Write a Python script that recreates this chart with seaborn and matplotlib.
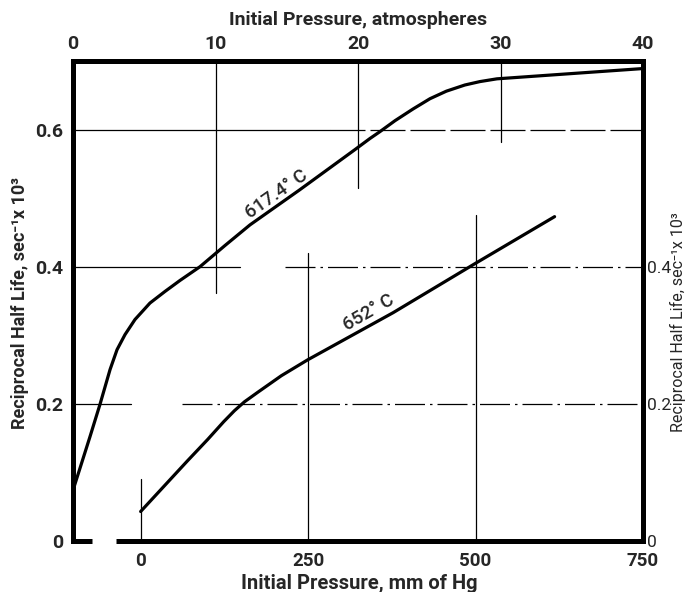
import matplotlib
matplotlib.use("Agg")
import matplotlib.pyplot as plt
import seaborn as sns
import pandas as pd

# ---- data ----
# 617.4 deg C curve: initial pressure (atmospheres, top axis) vs reciprocal half life (left axis)
atm_617 = [0.0, 1.19, 1.89, 2.60, 3.09, 3.65, 4.35, 5.40, 6.46, 7.51, 8.91, 10.67, 12.42,
           15.9, 19.8, 20.84, 21.54, 22.6, 23.86, 25.05, 26.2, 27.5, 28.56, 29.75, 40.0]
rhl_617 = [0.074, 0.152, 0.199, 0.250, 0.279, 0.301, 0.323, 0.347, 0.364, 0.380, 0.400, 0.431, 0.461,
           0.512, 0.571, 0.587, 0.597, 0.613, 0.630, 0.645, 0.656, 0.665, 0.670, 0.674, 0.689]

# 652 deg C curve: initial pressure (mm of Hg, bottom axis) vs reciprocal half life (right axis)
mm_652 = [0, 35, 70, 100, 124, 140, 155, 175, 210, 249, 377, 500, 618]
rhl_652 = [0.043, 0.080, 0.117, 0.148, 0.174, 0.190, 0.203, 0.217, 0.241, 0.264, 0.333, 0.405, 0.473]

atm_ticks = [0, 10, 20, 30, 40]
mm_ticks = [0, 250, 500, 750]
left_ticks = [0, 0.2, 0.4, 0.6]
left_labels = ["0", "0.2", "0.4", "0.6"]
right_ticks = [0, 0.2, 0.4]
right_labels = ["0", "0.2", "0.4"]

df617 = pd.DataFrame({"atm": atm_617, "rhl": rhl_617})
df652 = pd.DataFrame({"mm": mm_652, "rhl": rhl_652})

sns.set_style("white")
plt.rcParams["font.family"] = ["Roboto", "DejaVu Sans"]

W, H = 697, 592
fig = plt.figure(figsize=(W / 100, H / 100), dpi=100)
ax = fig.add_axes([73 / W, 1 - 541 / H, 570 / W, 480 / H])
ax.set_xlim(-101, 750)
ax.set_ylim(0, 0.70)
ax_top = ax.twiny()
ax_top.set_xlim(0, 40)
ax_r = ax.twinx()
ax_r.set_ylim(0, 0.70)

K = "black"
SPW = 3.6
GLW = 0.9

# spines
for s in ["top", "left", "right"]:
    ax.spines[s].set_linewidth(SPW)
    ax.spines[s].set_color(K)
ax.spines["bottom"].set_visible(False)
for a in (ax_top, ax_r):
    for s in a.spines.values():
        s.set_visible(False)
# broken bottom spine
ax.plot([0, 0.033], [0, 0], transform=ax.transAxes, color=K, lw=SPW, clip_on=False,
        solid_capstyle="butt")
ax.plot([0.0754, 1.0], [0, 0], transform=ax.transAxes, color=K, lw=SPW, clip_on=False,
        solid_capstyle="butt")

# curves
sns.lineplot(data=df617, x="atm", y="rhl", ax=ax_top, color=K, lw=2.3, sort=False)
sns.lineplot(data=df652, x="mm", y="rhl", ax=ax_r, color=K, lw=2.3, sort=False)

# partial grid lines
dashdot = (0, (24, 4, 2, 4))
ax.axhline(0.6, xmin=0, xmax=0.45, color=K, lw=GLW)
ax.axhline(0.6, xmin=0.45, xmax=1, color=K, lw=GLW, ls=(0, (28, 4)))
ax.axhline(0.4, xmin=0, xmax=0.293, color=K, lw=GLW)
ax.axhline(0.4, xmin=0.372, xmax=1, color=K, lw=GLW, ls=dashdot)
ax.axhline(0.2, xmin=0, xmax=0.102, color=K, lw=GLW)
ax.axhline(0.2, xmin=0.191, xmax=1, color=K, lw=GLW, ls=dashdot)
ax_top.axvline(10, ymin=0.517, ymax=1, color=K, lw=GLW)
ax_top.axvline(20, ymin=0.735, ymax=1, color=K, lw=GLW)
ax_top.axvline(30, ymin=0.831, ymax=1, color=K, lw=GLW)
ax.axvline(0, ymin=0, ymax=0.129, color=K, lw=GLW)
ax.axvline(250, ymin=0, ymax=0.60, color=K, lw=GLW)
ax.axvline(500, ymin=0, ymax=0.679, color=K, lw=GLW)

# ticks
ax.set_xticks(mm_ticks)
ax.set_xticklabels([str(t) for t in mm_ticks], fontsize=13.5, fontweight="bold")
ax.tick_params(axis="x", bottom=True, top=False, labelbottom=True, labeltop=False, length=0, pad=8)
ax.set_yticks(left_ticks)
ax.set_yticklabels(left_labels, fontsize=14, fontweight="bold")
ax.tick_params(axis="y", left=True, right=False, labelleft=True, labelright=False, length=0, pad=7)

ax_top.set_xticks(atm_ticks)
ax_top.set_xticklabels([str(t) for t in atm_ticks], fontsize=14, fontweight="bold")
ax_top.tick_params(axis="x", length=0, pad=6)

ax_r.set_yticks(right_ticks)
ax_r.set_yticklabels(right_labels, fontsize=12.5)
ax_r.tick_params(axis="y", length=0, pad=3)

# axis labels
ax_top.set_xlabel("Initial Pressure, atmospheres", fontsize=14, fontweight="bold")
ax_top.xaxis.set_label_coords(0.5, 1.085)
ax_top.xaxis.label.set_va("center")
ax.set_xlabel("Initial Pressure, mm of Hg", fontsize=14.5, fontweight="bold")
ax.xaxis.set_label_coords(0.503, -0.0875)
ax.xaxis.label.set_va("center")
ax.set_ylabel("Reciprocal Half Life, sec\u207b\u00b9x 10\u00b3", fontsize=13, fontweight="bold")
ax.yaxis.set_label_coords(-0.093, 0.496)
ax.yaxis.label.set_va("center")
ax_r.set_ylabel("Reciprocal Half Life, sec\u207b\u00b9x 10\u00b3", fontsize=11.5)
ax_r.yaxis.set_label_coords(1.061, 0.456)
ax_r.yaxis.label.set_va("center")
ax_r.yaxis.label.set_rotation(90)

# curve labels
ax_top.text(14.3, 0.505, "617.4\u00b0 C", rotation=35, ha="center", va="center",
            fontsize=13.5, fontweight="medium")
ax_r.text(340, 0.333, "652\u00b0 C", rotation=30, ha="center", va="center",
          fontsize=13.5, fontweight="medium")

fig.savefig("out.png", dpi=100)
